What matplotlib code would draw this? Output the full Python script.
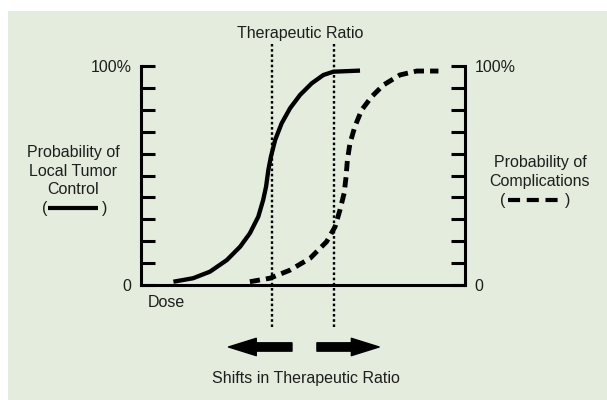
#!/usr/bin/env python

""" Therapeutic ratio diagram: tumor control vs complication probability. """

import matplotlib
matplotlib.use("Agg")
import matplotlib.pyplot as plt
from matplotlib.patches import Rectangle
from matplotlib.lines import Line2D


# Dose (0-100 across the axis) and probability (%)
tumor_dose = [10.0, 16.1, 21.3, 26.5, 30.6, 33.6, 36.2, 37.7, 38.6, 39.3,
              40.1, 41.4, 43.4, 46.0, 49.1, 52.7, 56.3, 59.4, 67.6]
tumor_prob = [1.5, 3.1, 6.1, 11.4, 17.5, 23.6, 31.2, 38.8, 44.9, 52.5,
              58.6, 66.2, 73.8, 80.7, 86.8, 92.1, 95.9, 97.4, 97.9]

comp_dose = [33.6, 39.8, 46.0, 52.2, 57.3, 59.9, 61.4, 62.7, 63.3, 63.7,
             64.5, 66.0, 68.1, 71.2, 74.8, 79.9, 85.1, 91.8]
comp_prob = [1.5, 3.1, 6.8, 12.2, 19.8, 26.6, 34.2, 41.9, 49.5, 57.1,
             64.7, 72.3, 79.9, 86.0, 91.3, 95.9, 97.7, 97.7]

# Dotted lines bounding the therapeutic ratio
ratio_bounds = [40.3, 59.6]

# Shift arrows (start, end) along the dose axis
shift_arrows = [(46.6, 27.0), (54.3, 73.5)]

y_ticks = list(range(0, 101, 10))
y_tick_labels = ["0"] + [""] * 9 + ["100%"]

plt.rcParams["font.family"] = ["Liberation Sans", "DejaVu Sans"]
TXT = "#1e1e1e"
FS = 11.5

W, H = 607, 400
fig = plt.figure(figsize=(W / 100, H / 100), dpi=100)
fig.patch.set_facecolor("white")
fig.patches.append(Rectangle((8 / W, 0), 1, 1 - 11 / H, transform=fig.transFigure,
                             facecolor="#e3ecdd", edgecolor="none", zorder=-10))

ax = fig.add_axes([141 / W, 1 - 285 / H, 324 / W, 219 / H])
ax.set_facecolor("none")
ax.set_xlim(0, 100)
ax.set_ylim(0, 100)

for side in ["left", "bottom", "right"]:
    ax.spines[side].set_linewidth(2.2)
ax.spines["top"].set_visible(False)

ax.set_xticks([])
ax.set_yticks(y_ticks)
ax.set_yticklabels(y_tick_labels)
ax.tick_params(axis="y", direction="in", length=10, width=2.2, pad=7,
               left=True, right=True, labelleft=True, labelright=True,
               labelsize=FS, labelcolor=TXT)

# Curves
ax.plot(tumor_dose, tumor_prob, color="black", lw=3.1,
        solid_capstyle="butt", solid_joinstyle="round", clip_on=False)
ax.plot(comp_dose, comp_prob, color="black", lw=3.5,
        linestyle=(0, (2.1, 1.25)), dash_capstyle="butt", clip_on=False)

# Therapeutic ratio bounds
for xb in ratio_bounds:
    ax.plot([xb, xb], [-19, 110], color="black", lw=1.7,
            linestyle=(0, (1.1, 1.1)), clip_on=False)

# Shift arrows
for x0, x1 in shift_arrows:
    ax.annotate("", xy=(x1, -28.3), xytext=(x0, -28.3),
                arrowprops=dict(arrowstyle="simple,head_length=2.0,head_width=1.25,tail_width=0.6",
                                mutation_scale=10, color="black",
                                shrinkA=0, shrinkB=0),
                annotation_clip=False)

ax.text(49.1, 115, "Therapeutic Ratio", ha="center", va="center",
        fontsize=FS, color=TXT)
ax.text(50.9, -42.5, "Shifts in Therapeutic Ratio", ha="center", va="center",
        fontsize=FS, color=TXT)
ax.text(7.7, -8.2, "Dose", ha="center", va="center",
        fontsize=FS, color=TXT)

# Side labels with line samples
fig.text(73 / W, 1 - 171 / H, "Probability of\nLocal Tumor\nControl",
         ha="center", va="center", fontsize=FS, color=TXT,
         linespacing=1.3)
fig.text(45 / W, 1 - 208 / H, "(", ha="center", va="center", fontsize=FS, color=TXT)
fig.text(105 / W, 1 - 208 / H, ")", ha="center", va="center", fontsize=FS, color=TXT)
fig.add_artist(Line2D([48 / W, 98 / W], [1 - 208 / H, 1 - 208 / H],
                      color="black", lw=3.0, solid_capstyle="butt"))

fig.text(540 / W, 1 - 172 / H, "Probability of\nComplications",
         ha="center", va="center", fontsize=FS, color=TXT,
         linespacing=1.3)
fig.text(503 / W, 1 - 200 / H, "(", ha="center", va="center", fontsize=FS, color=TXT)
fig.text(568 / W, 1 - 200 / H, ")", ha="center", va="center", fontsize=FS, color=TXT)
fig.add_artist(Line2D([508 / W, 562 / W], [1 - 200 / H, 1 - 200 / H],
                      color="black", lw=3.0, linestyle=(0, (2.9, 1.6)),
                      dash_capstyle="butt"))

fig.savefig("out.png", dpi=100)
